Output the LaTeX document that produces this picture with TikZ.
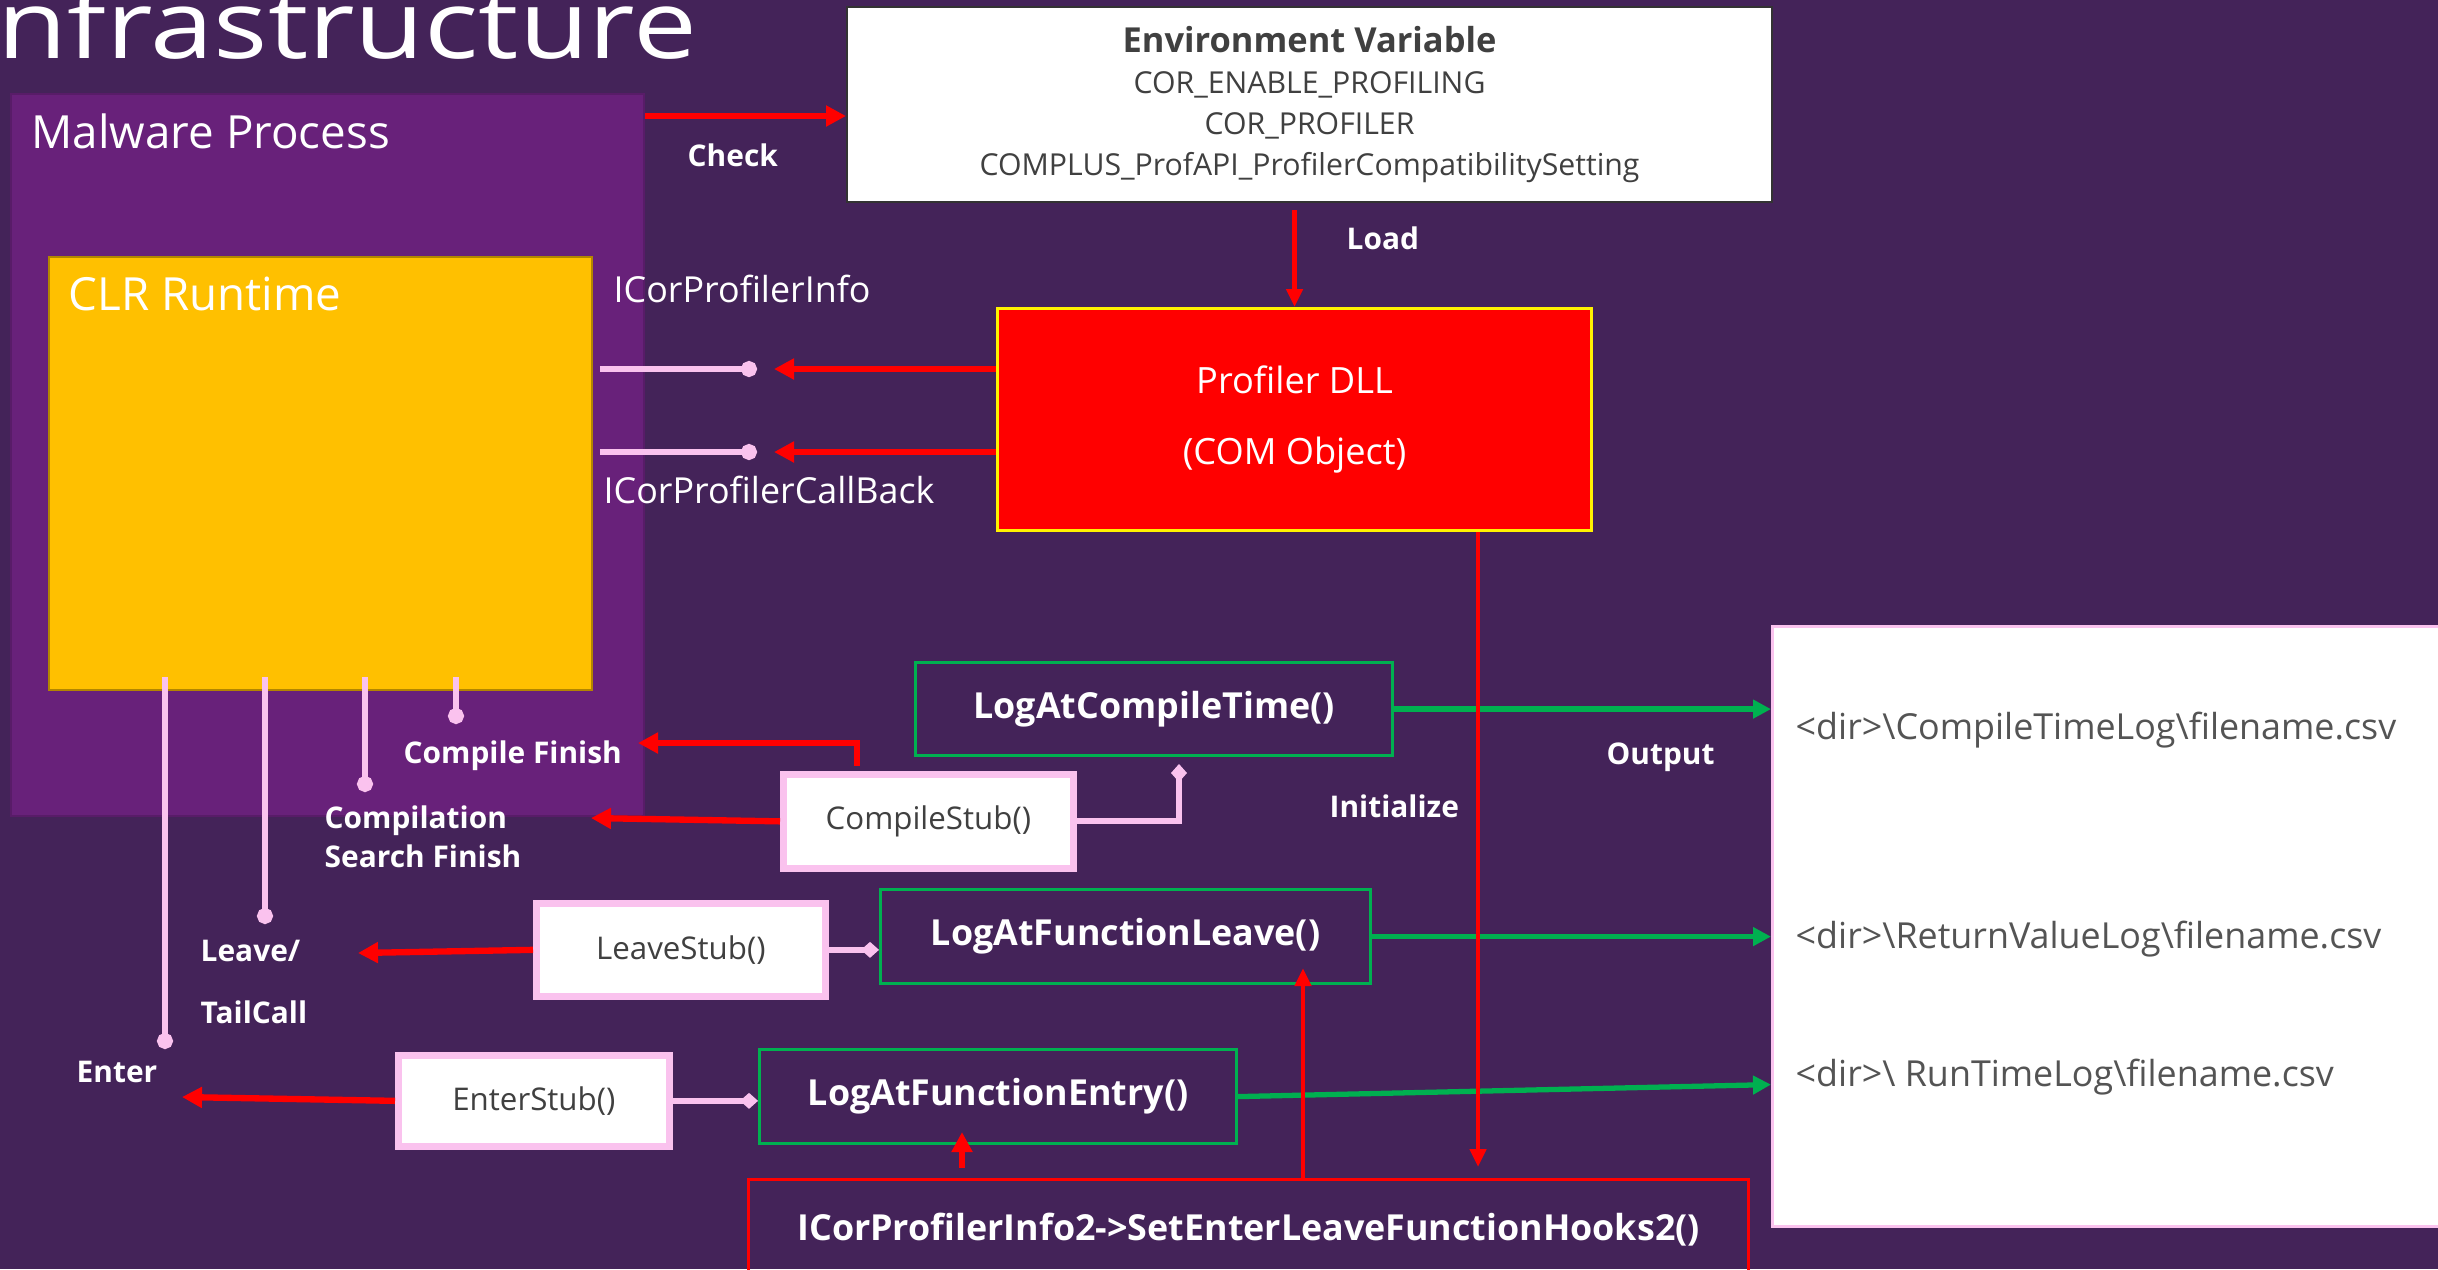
\documentclass[tikz,border=0pt]{standalone}
\usepackage{fontspec}
\setmainfont{Open Sans}
\usetikzlibrary{arrows.meta}
\definecolor{slide}{RGB}{68,35,89}
\definecolor{vspurple}{RGB}{104,33,122}
\definecolor{gold}{RGB}{255,192,0}
\definecolor{hookpink}{RGB}{250,194,238}
\definecolor{loggreen}{RGB}{0,176,80}
\definecolor{txtgray}{RGB}{64,64,64}
\definecolor{csvgray}{RGB}{84,84,84}

\begin{document}
\begin{tikzpicture}[
    lbl/.style={text=white, font=\bfseries\fontsize{8.5}{10}\selectfont, inner sep=0pt, anchor=base west},
    iface/.style={text=white, font=\fontsize{10.2}{12}\selectfont, inner sep=0pt, anchor=base west},
    csv/.style={text=csvgray, font=\fontsize{10.2}{12}\selectfont, inner sep=0pt, anchor=base west},
    stubbox/.style={draw=hookpink, line width=1.9pt, fill=white, text=txtgray, font=\fontsize{8.9}{10}\selectfont, anchor=north west, inner sep=0pt},
    logbox/.style={draw=loggreen, line width=0.9pt, text=white, font=\bfseries\fontsize{10.2}{12}\selectfont, anchor=north west, inner sep=0pt},
    redarrow/.style={red, line width=1.8pt, -{Triangle[length=2.0mm,width=2.0mm]}},
    redthin/.style={red, line width=1.3pt, -{Triangle[length=1.8mm,width=1.6mm]}},
    greenarrow/.style={loggreen, line width=1.5pt, -{Triangle[length=1.8mm,width=1.8mm]}},
    lolly/.style={hookpink, line width=1.6pt, -{Circle[length=1.6mm]}},
    plug/.style={hookpink, line width=1.7pt, -{Diamond[length=1.8mm,width=1.6mm]}},
  ]
  \useasboundingbox (0,0) rectangle (24.38,-12.69);
  \clip (0,0) rectangle (24.38,-12.69);
  \fill[slide] (0,0) rectangle (24.38,-12.69);

  \node[text=white, anchor=base west, inner sep=0pt, font=\fontsize{27}{30}\selectfont] (heading) at (-0.03,-0.58) {\scalebox{1.2}[1]{nfrastructure}};

  \node[draw=vspurple!85!black, fill=vspurple, line width=0.6pt, minimum width=6.33cm, minimum height=7.22cm, anchor=north west, inner sep=0pt] (malware) at (0.10,-0.93) {};
  \node[text=white, anchor=base west, inner sep=0pt, font=\fontsize{13}{15}\selectfont] (mwtitle) at (0.31,-1.48) {Malware Process};
  \node[draw=gold!70!black, fill=gold, line width=0.5pt, minimum width=5.43cm, minimum height=4.33cm, anchor=north west, inner sep=0pt] (clr) at (0.48,-2.56) {};
  \node[text=white, anchor=base west, inner sep=0pt, font=\fontsize{13}{15}\selectfont] (clrtitle) at (0.68,-3.10) {CLR Runtime};

  \node[fill=white, draw=black!80, line width=0.6pt, minimum width=9.25cm, minimum height=1.95cm, anchor=north west, align=center, text=txtgray, font=\fontsize{8.6}{11.7}\selectfont] (env) at (8.46,-0.06)
    {{\bfseries\fontsize{9.8}{12}\selectfont Environment Variable}\\COR\_ENABLE\_PROFILING\\COR\_PROFILER\\COMPLUS\_ProfAPI\_ProfilerCompatibilitySetting};
  \node[fill=red, draw=yellow, line width=0.9pt, minimum width=5.94cm, minimum height=2.22cm, anchor=north west, align=center, text=white, font=\fontsize{10.3}{20}\selectfont] (dll) at (9.96,-3.07) {Profiler DLL\\(COM Object)};

  \node[logbox, minimum width=4.77cm, minimum height=0.93cm] (lact) at (9.14,-6.61) {LogAtCompileTime()};
  \node[logbox, minimum width=4.90cm, minimum height=0.94cm] (lafl) at (8.79,-8.88) {LogAtFunctionLeave()};
  \node[logbox, minimum width=4.77cm, minimum height=0.94cm] (lafe) at (7.58,-10.48) {LogAtFunctionEntry()};

  \node[stubbox, minimum width=2.90cm, minimum height=0.94cm] (cstub) at (7.80,-7.71) {CompileStub()};
  \node[stubbox, minimum width=2.89cm, minimum height=0.93cm] (lstub) at (5.33,-9.00) {LeaveStub()};
  \node[stubbox, minimum width=2.71cm, minimum height=0.91cm] (estub) at (3.95,-10.52) {EnterStub()};

  \node[draw=red, line width=0.9pt, minimum width=10.0cm, minimum height=1.0cm, anchor=north west, text=white, font=\bfseries\fontsize{10.2}{12}\selectfont] (hooks) at (7.47,-11.78) {ICorProfilerInfo2->SetEnterLeaveFunctionHooks2()};

  \node[fill=white, draw=hookpink, line width=0.8pt, minimum width=7cm, minimum height=6.0cm, anchor=north west] (out) at (17.71,-6.25) {};
  \node[csv] (ctlog) at (17.95,-7.39) {<dir>\textbackslash CompileTimeLog\textbackslash filename.csv};
  \node[csv] (rvlog) at (17.95,-9.48) {<dir>\textbackslash ReturnValueLog\textbackslash filename.csv};
  \node[csv] (rtlog) at (17.95,-10.86) {<dir>\textbackslash\ RunTimeLog\textbackslash filename.csv};

  \node[lbl] (check) at (6.87,-1.66) {Check};
  \node[lbl] (load) at (13.46,-2.49) {Load};
  \node[iface] (info) at (6.13,-3.02) {ICorProfilerInfo};
  \node[iface] (callback) at (6.03,-5.03) {ICorProfilerCallBack};
  \node[lbl] (cfinish) at (4.03,-7.63) {Compile Finish};
  \node[lbl] (compilation) at (3.24,-8.28) {Compilation};
  \node[lbl] (searchfin) at (3.24,-8.67) {Search Finish};
  \node[lbl] (leave) at (2.00,-9.61) {Leave/};
  \node[lbl] (tailcall) at (2.00,-10.23) {TailCall};
  \node[lbl] (enter) at (0.76,-10.82) {Enter};
  \node[lbl] (init) at (13.29,-8.17) {Initialize};
  \node[lbl] (output) at (16.06,-7.64) {Output};

  \coordinate (infodot) at (7.57,-3.69);
  \coordinate (cbdot) at (7.57,-4.52);
  \coordinate (cfintip) at (6.38,-7.43);
  \coordinate (srchtip) at (5.91,-8.18);
  \coordinate (lactpin) at (11.79,-7.64);
  \coordinate (leavetip) at (3.58,-9.53);
  \coordinate (entertip) at (1.82,-10.97);
  \coordinate (inittip) at (14.78,-11.67);

  \draw[lolly] ([xshift=0.07cm]clr.east |- infodot) -- (infodot);
  \draw[lolly] ([xshift=0.07cm]clr.east |- cbdot) -- (cbdot);
  \foreach \x/\y in {1.65/10.49, 2.65/9.24, 3.65/7.92, 4.56/7.24}
    \draw[lolly] (\x,0 |- clr.south) ++(0,0.14) -- (\x,-\y);

  \draw[plug] (cstub.east) -| (lactpin);
  \draw[plug] (lstub.east) -- (lafl.west |- lstub.east);
  \draw[plug] (estub.east) -- (lafe.west |- estub.east);

  \draw[greenarrow] (lact.east) -- (out.west |- lact.east);
  \draw[greenarrow] (lafl.east) -- (out.west |- lafl.east);
  \draw[greenarrow] (lafe.east) -- ([yshift=0.12cm]out.west |- lafe.east);

  \draw[redarrow] (malware.east |- 0,-1.16) -- (env.west |- 0,-1.16);
  \draw[redthin] (dll.north |- 0,-2.10) -- (dll.north);
  \draw[redarrow] (dll.west |- infodot) -- ([xshift=0.17cm]infodot);
  \draw[redarrow] (dll.west |- cbdot) -- ([xshift=0.17cm]cbdot);
  \draw[redarrow] (8.57,0 |- cstub.north) ++(0,0.05) |- (cfintip);
  \draw[redarrow] (cstub.west) -- (srchtip);
  \draw[redarrow] (lstub.west) -- (leavetip);
  \draw[redarrow] (estub.west) -- (entertip);
  \draw[redthin] (14.78,0 |- dll.south) -- (inittip);
  \draw[redthin] (13.03,0 |- hooks.north) -- (13.03,-9.68);
  \draw[redarrow] (9.62,0 |- hooks.north) ++(0,0.1) -- (9.62,-11.32);
\end{tikzpicture}
\end{document}
